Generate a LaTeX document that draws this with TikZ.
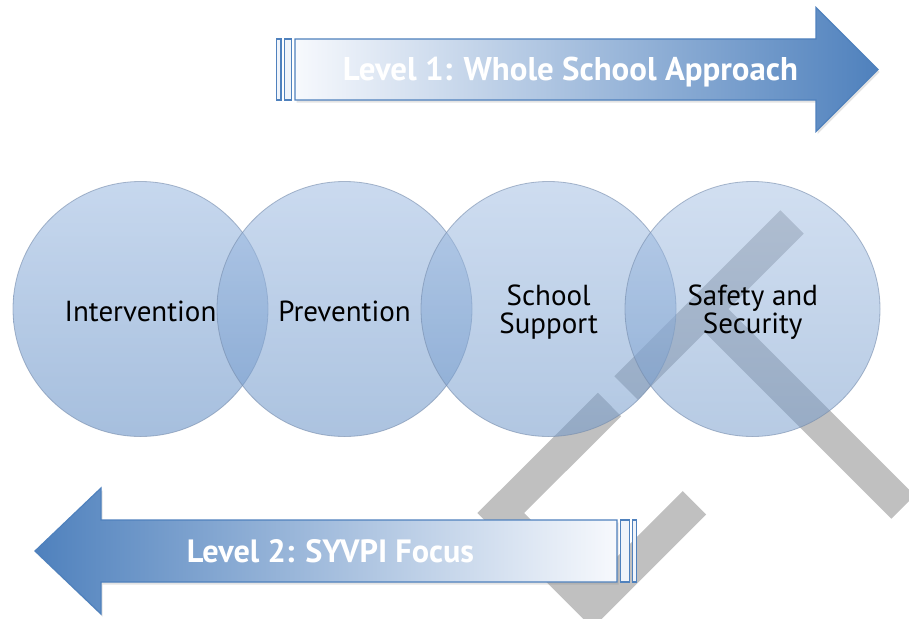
\documentclass[tikz,border=0pt]{standalone}
\usepackage{fontspec}
\usepackage{graphicx}
\setmainfont{PT Sans}
\usetikzlibrary{shadows}
\definecolor{arrowblue}{RGB}{79,129,189}
\definecolor{arrowwhite}{RGB}{247,249,253}
\definecolor{barfill}{RGB}{240,244,250}
\definecolor{wmgray}{RGB}{192,192,192}
\definecolor{circtop}{RGB}{165,192,228}
\definecolor{circbot}{RGB}{112,152,202}
\definecolor{circedge}{RGB}{118,140,172}
\begin{document}
\begin{tikzpicture}[x=1pt,y=-1pt,
  band/.style={draw=wmgray,line width=33pt,line cap=butt,line join=miter},
  ball/.style={circle,minimum size=255pt,inner sep=0pt,top color=circtop,bottom color=circbot,
    draw=circedge,line width=0.8pt},
  ctext/.style={anchor=base,text=black,font=\fontsize{29}{30}\selectfont,inner sep=0pt},
  atext/.style={anchor=base,text=white,inner sep=0pt,font=\fontsize{33}{36}\selectfont\bfseries},
  arrowbody/.style={draw=arrowblue,line width=1.2pt,line join=miter,
    drop shadow={opacity=0.22,shadow xshift=1.5pt,shadow yshift=-2.5pt}},
  barbox/.style={draw=arrowblue,line width=1.1pt,fill=barfill}
]
\useasboundingbox (0,0) rectangle (909,618);
\fill[white] (0,0) rectangle (909,618);

% watermark
\begin{scope}
\clip (0,0) rectangle (909,618);
\draw[band] (792,222) -- (626,388);
\draw[band] (705,309) -- (903,507);
\draw[band] (609.5,404.5) -- (500.8,513) -- (592.5,604.8) -- (694.5,502.8);
\end{scope}

% circles
\node[ball,fill opacity=0.62,draw opacity=0.6] (c1) at (140.5,309) {};
\node[ball,fill opacity=0.58,draw opacity=0.6] (c2) at (344.5,309) {};
\node[ball,fill opacity=0.54,draw opacity=0.6] (c3) at (548.5,309) {};
\node[ball,fill opacity=0.50,draw opacity=0.6] (c4) at (752.5,309) {};

\node[ctext] (t1) at (140.5,321.7) {Intervention};
\node[ctext] (t2) at (344.5,321.7) {Prevention};
\node[ctext] (t3a) at (548.6,305) {School};
\node[ctext] (t3b) at (548.6,333.3) {Support};
\node[ctext] (t4a) at (752.7,305) {Safety and};
\node[ctext] (t4b) at (752.7,333.3) {Security};

% top arrow
\path[arrowbody,left color=arrowwhite,right color=arrowblue]
  (295,39) -- (816,39) -- (816,7.5) -- (878,69.5) -- (816,131.5) -- (816,100) -- (295,100) -- cycle;
\draw[barbox] (276.7,39) rectangle (281,100);
\draw[barbox] (284.3,39) rectangle (291.7,100);
\node[atext] (l1) at (570.5,80.5) {\resizebox{455pt}{!}{Level 1: Whole School Approach}};

% bottom arrow
\path[arrowbody,left color=arrowblue,right color=arrowwhite]
  (617,520) -- (101,520) -- (101,488) -- (35,551) -- (101,614) -- (101,582) -- (617,582) -- cycle;
\draw[barbox] (620.7,520) rectangle (629.3,582);
\draw[barbox] (632.3,520) rectangle (636.7,582);
\node[atext] (l2) at (330.5,562) {\resizebox{287pt}{!}{Level 2: SYVPI Focus}};
\end{tikzpicture}
\end{document}
